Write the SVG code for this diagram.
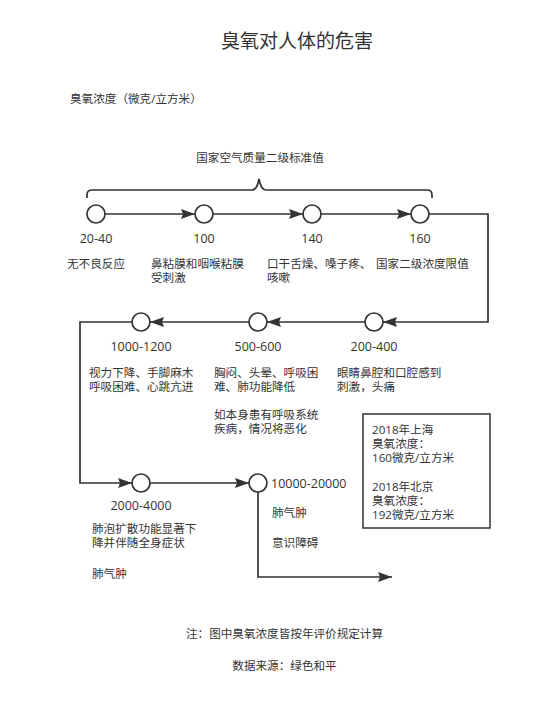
<svg xmlns="http://www.w3.org/2000/svg" width="546" height="706" viewBox="0 0 546 706">
<defs>
<marker id="ah" viewBox="0 0 14 10" refX="14" refY="5" markerWidth="14" markerHeight="10" markerUnits="userSpaceOnUse" orient="auto">
<path d="M0,0 L14,5 L0,10 L2,5 Z" fill="#333"/>
</marker>
<style>
.t{font-family:"Open Sans","Noto Sans CJK SC",sans-serif;font-size:11.6px;fill:#333}
.n{font-family:"Open Sans","Noto Sans CJK SC",sans-serif;font-size:12.5px;fill:#333;text-anchor:middle}
.ns{text-anchor:start}
.ln{fill:none;stroke:#333;stroke-width:1.7}
.nd{fill:#fff;stroke:#333;stroke-width:1.7}
</style>
</defs>
<rect width="546" height="706" fill="#fff"/>
<text x="297" y="47.5" style="font-family:'Noto Sans CJK SC',sans-serif;font-size:19px;fill:#333;text-anchor:middle">臭氧对人体的危害</text>
<text class="t" x="70" y="102.5">臭氧浓度（微克/立方米）</text>
<text class="t" x="260" y="161.5" text-anchor="middle">国家空气质量二级标准值</text>
<path class="ln" d="M87,198 V195 Q87,190 92,190 H252 Q257,190 259,179 Q261,190 266,190 H427 Q432,190 432,195 V198"/>
<g id="connectors">
<line class="ln" x1="105" y1="214" x2="195" y2="214" marker-end="url(#ah)"/>
<line class="ln" x1="213" y1="214" x2="303" y2="214" marker-end="url(#ah)"/>
<line class="ln" x1="321" y1="214" x2="411" y2="214" marker-end="url(#ah)"/>
<polyline class="ln" points="429,214 488,214 488,322 383,322" marker-end="url(#ah)"/>
<line class="ln" x1="365" y1="322" x2="267" y2="322" marker-end="url(#ah)"/>
<line class="ln" x1="249" y1="322" x2="150" y2="322" marker-end="url(#ah)"/>
<polyline class="ln" points="132,322 80,322 80,483 132,483" marker-end="url(#ah)"/>
<line class="ln" x1="150" y1="483" x2="249" y2="483" marker-end="url(#ah)"/>
<polyline class="ln" points="258,492 258,577 392,577" marker-end="url(#ah)"/>
</g>
<g id="n1"><circle class="nd" cx="96" cy="214" r="9"/><text class="n" x="96" y="242.5">20-40</text><text class="t" x="67" y="267.5">无不良反应</text></g>
<g id="n2"><circle class="nd" cx="204" cy="214" r="9"/><text class="n" x="204" y="242.5">100</text><text class="t" x="151" y="267.5">鼻粘膜和咽喉粘膜</text><text class="t" x="151" y="281.5">受刺激</text></g>
<g id="n3"><circle class="nd" cx="312" cy="214" r="9"/><text class="n" x="312" y="242.5">140</text><text class="t" x="267" y="267.5">口干舌燥、嗓子疼、</text><text class="t" x="267" y="281.5">咳嗽</text></g>
<g id="n4"><circle class="nd" cx="420" cy="214" r="9"/><text class="n" x="420" y="242.5">160</text><text class="t" x="376" y="267.5">国家二级浓度限值</text></g>
<g id="n5"><circle class="nd" cx="374" cy="322" r="9"/><text class="n" x="374" y="350.5">200-400</text><text class="t" x="337" y="376.5">眼睛鼻腔和口腔感到</text><text class="t" x="337" y="390.5">刺激，头痛</text></g>
<g id="n6"><circle class="nd" cx="258" cy="322" r="9"/><text class="n" x="258" y="350.5">500-600</text><text class="t" x="214" y="376.5">胸闷、头晕、呼吸困</text><text class="t" x="214" y="390.5">难、肺功能降低</text><text class="t" x="214" y="418.5">如本身患有呼吸系统</text><text class="t" x="214" y="432.5">疾病，情况将恶化</text></g>
<g id="n7"><circle class="nd" cx="141" cy="322" r="9"/><text class="n" x="141" y="350.5">1000-1200</text><text class="t" x="89" y="376.5">视力下降、手脚麻木</text><text class="t" x="89" y="390.5">呼吸困难、心跳亢进</text></g>
<g id="n8"><circle class="nd" cx="141" cy="483" r="9"/><text class="n" x="141" y="509.5">2000-4000</text><text class="t" x="92" y="532.5">肺泡扩散功能显著下</text><text class="t" x="92" y="546.5">降并伴随全身症状</text><text class="t" x="92" y="577.5">肺气肿</text></g>
<g id="n9"><circle class="nd" cx="258" cy="483" r="9"/><text class="n ns" x="271" y="487.5">10000-20000</text><text class="t" x="272" y="516.5">肺气肿</text><text class="t" x="272" y="546.5">意识障碍</text></g>
<g id="box"><rect x="363" y="414" width="127" height="114" fill="#fff" stroke="#333" stroke-width="1.5"/>
<text class="t" x="372" y="433.5">2018年上海</text><text class="t" x="372" y="447.5">臭氧浓度：</text><text class="t" x="372" y="462">160微克/立方米</text>
<text class="t" x="372" y="490.5">2018年北京</text><text class="t" x="372" y="504.5">臭氧浓度：</text><text class="t" x="372" y="518.5">192微克/立方米</text></g>
<text class="t" x="284.5" y="637.5" text-anchor="middle">注：图中臭氧浓度皆按年评价规定计算</text>
<text class="t" x="284.5" y="669.5" text-anchor="middle">数据来源：绿色和平</text>
</svg>
